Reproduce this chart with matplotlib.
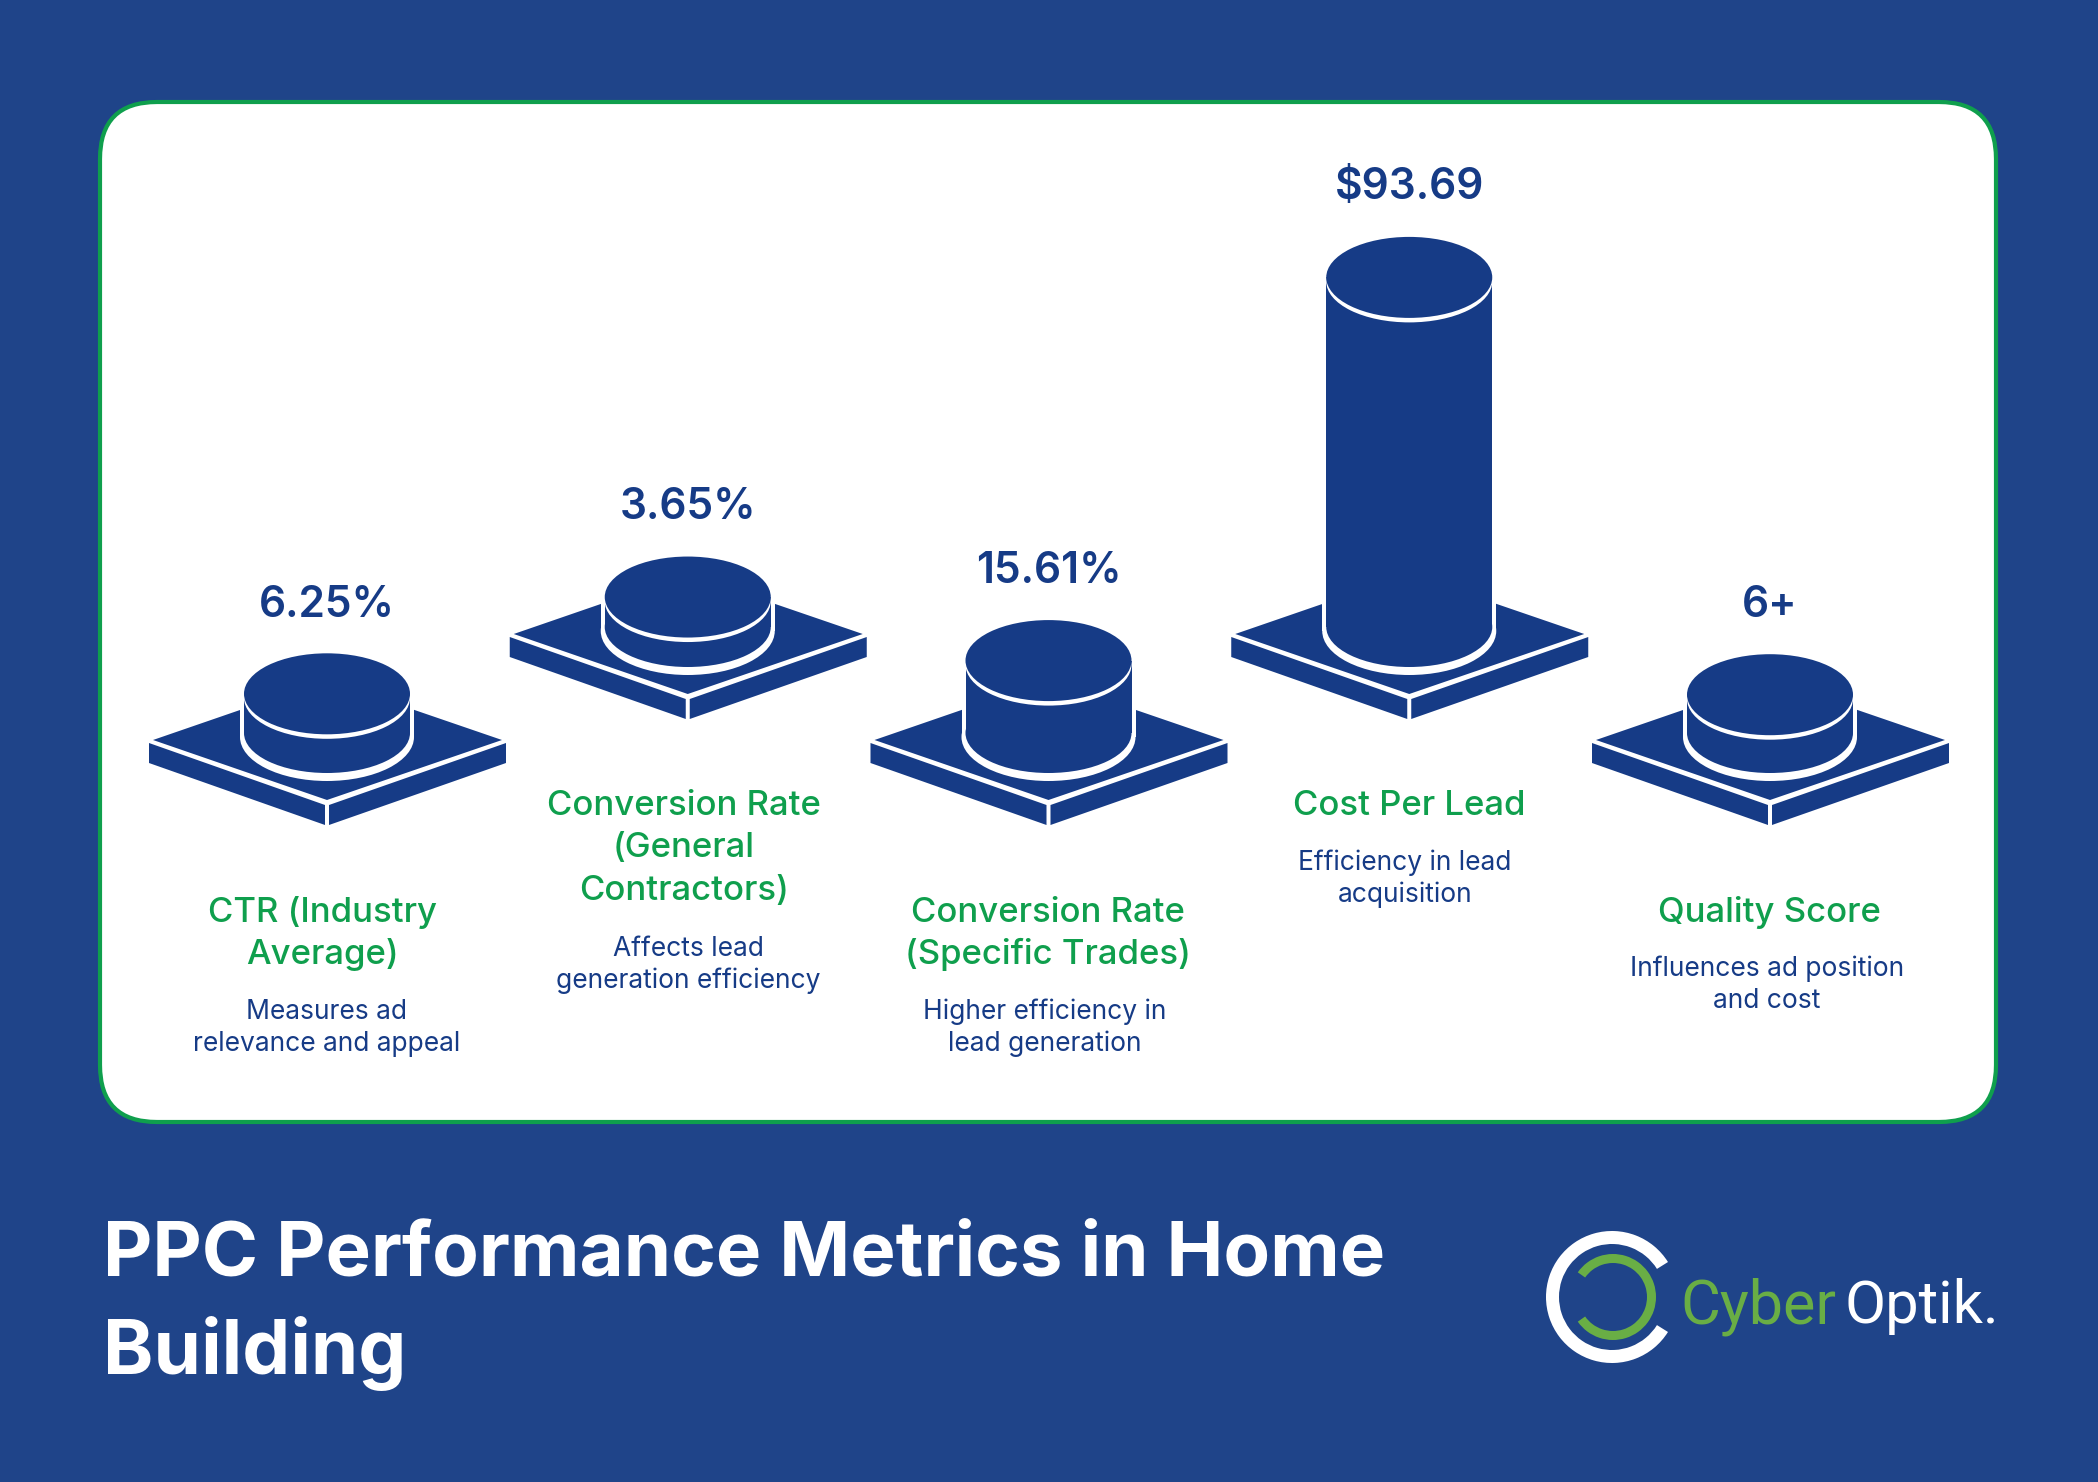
import matplotlib
matplotlib.use("Agg")
import matplotlib.pyplot as plt
from matplotlib.patches import Ellipse, FancyBboxPatch, Polygon, Rectangle, Wedge

# chart data
metric_names = ["CTR", "Conversion General", "Conversion Specific", "Cost Per Lead", "Quality Score"]
metric_values = [6.25, 3.65, 15.61, 93.69, 6]
value_labels = ["6.25%", "3.65%", "15.61%", "$93.69", "6+"]
label_lines = [["CTR (Industry", "Average)"],
               ["Conversion Rate", "(General", "Contractors)"],
               ["Conversion Rate", "(Specific Trades)"],
               ["Cost Per Lead"],
               ["Quality Score"]]
desc_lines = [["Measures ad", "relevance and appeal"],
              ["Affects lead", "generation efficiency"],
              ["Higher efficiency in", "lead generation"],
              ["Efficiency in lead", "acquisition"],
              ["Influences ad position", "and cost"]]
title_lines = ["PPC Performance Metrics in Home", "Building"]

BG = "#1F4489"
NAVY = "#163B86"
GREEN = "#0F9F4D"
LOGO_GREEN = "#69AE45"
FONT = ["Inter", "DejaVu Sans"]

# layout, in pixels of the 2098x1482 canvas
value_y = [601, 503, 567, 183, 601]
label_y = [909, 802, 909, 802, 909]
desc_y = [1010, 947, 1010, 861, 967]
label_x = [323, 684, 1048, 1409, 1769]
desc_x = [327, 688, 1045, 1405, 1767]
lifted = [0, 1, 0, 1, 0]
value_px = 3.55  # column height per unit of value
stub_px = 17


def draw_column(ax, cx, lift, height):
    base = 733 - lift
    top = base - height
    # plate
    ox = cx - 327
    oy = -lift
    ax.add_patch(Polygon([(153 + ox, 740 + oy), (327 + ox, 800 + oy), (502 + ox, 740 + oy), (327 + ox, 680 + oy)], fc=NAVY, ec="none"))
    ax.add_patch(Polygon([(149 + ox, 743 + oy), (325 + ox, 805 + oy), (325 + ox, 825 + oy), (149 + ox, 763 + oy)], fc=NAVY, ec="none"))
    ax.add_patch(Polygon([(506 + ox, 743 + oy), (329 + ox, 805 + oy), (329 + ox, 825 + oy), (506 + ox, 763 + oy)], fc=NAVY, ec="none"))
    # white halo, body, rim, lid
    ax.add_patch(Rectangle((cx - 87, top), 174, height + 4, fc="white", ec="none"))
    ax.add_patch(Ellipse((cx, base + 4), 174, 88, fc="white", ec="none"))
    ax.add_patch(Rectangle((cx - 83, top), 166, height, fc=NAVY, ec="none"))
    ax.add_patch(Ellipse((cx, base), 166, 80, fc=NAVY, ec="none"))
    ax.add_patch(Ellipse((cx, top + 4), 166, 82, fc="white", ec="none"))
    ax.add_patch(Ellipse((cx, top), 166, 81, fc=NAVY, ec="none"))


fig = plt.figure(figsize=(20.98, 14.82), dpi=100, facecolor=BG)
ax = fig.add_axes([0, 0, 1, 1])
ax.set_xlim(0, 2098)
ax.set_ylim(1482, 0)
ax.axis("off")

ax.add_patch(FancyBboxPatch((100 + 57, 102 + 57), 1896 - 114, 1020 - 114,
                            boxstyle="round,pad=57,rounding_size=57",
                            fc="white", ec=GREEN, lw=3))

for i, name in enumerate(metric_names):
    cx = 327 + i * 360.75
    lift = 106 * lifted[i]
    draw_column(ax, cx, lift, stub_px + value_px * metric_values[i])
    ax.text(cx, value_y[i] + 16, value_labels[i], color=NAVY, fontsize=30.5, fontweight="semibold",
            family=FONT, ha="center", va="baseline")
    for j, line in enumerate(label_lines[i]):
        ax.text(label_x[i], label_y[i] + 13 + j * 42.4, line, color=GREEN, fontsize=25, fontweight="medium",
                family=FONT, ha="center", va="baseline")
    for j, line in enumerate(desc_lines[i]):
        ax.text(desc_x[i], desc_y[i] + 9 + j * 32, line, color=NAVY, fontsize=19,
                family=FONT, ha="center", va="baseline")

for j, line in enumerate(title_lines):
    ax.text(103, 1276 + j * 98, line, color="white", fontsize=54.9, fontweight="bold",
            family=FONT, ha="left", va="baseline")

# logo
ax.add_patch(Wedge((1612, 1297), 66, 32, 328, width=13, fc="white", ec="none"))
ax.add_patch(Wedge((1613, 1297), 43, -145, 145, width=9, fc=LOGO_GREEN, ec="none"))
ax.text(1680, 1323, "Cyber", color=LOGO_GREEN, fontsize=44, family="Roboto",
        ha="left", va="baseline")
ax.text(1844, 1323, "Optik.", color="white", fontsize=43, family="Roboto",
        ha="left", va="baseline")

fig.savefig("out.png", dpi=100, facecolor=BG)
